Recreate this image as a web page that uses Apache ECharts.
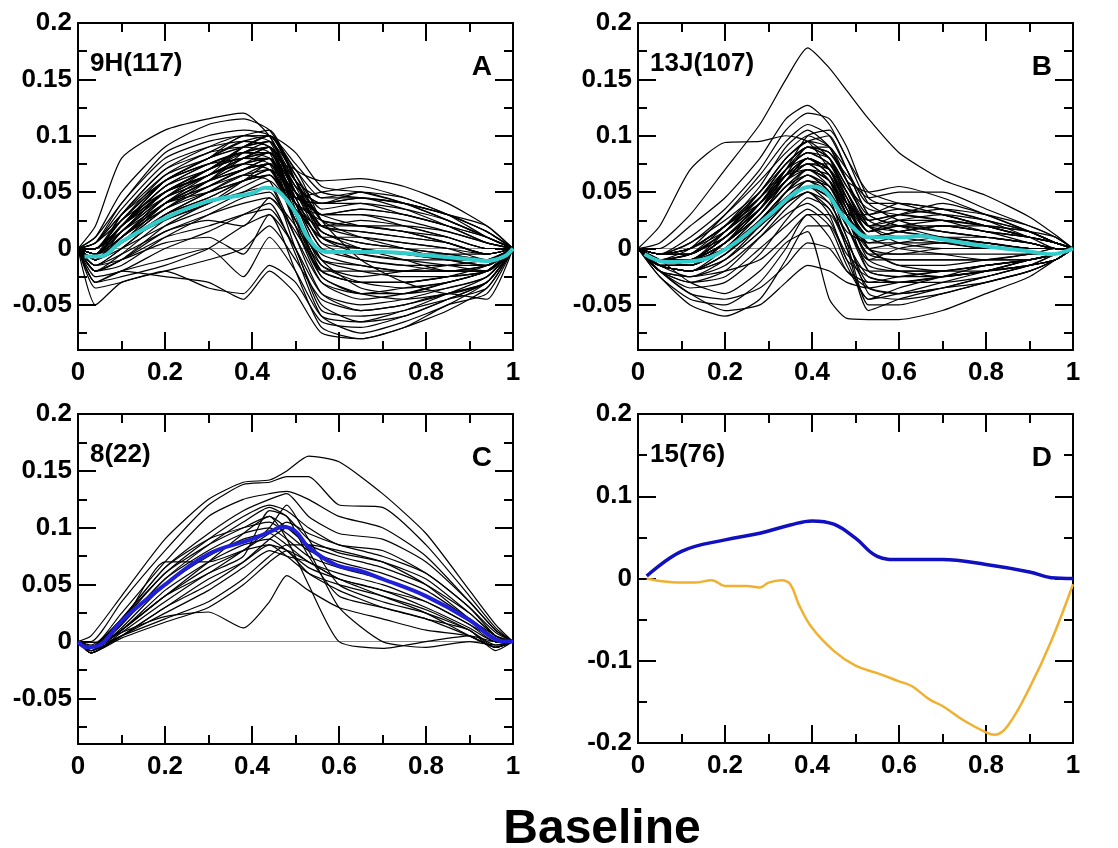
<!DOCTYPE html>
<html>
<head>
<meta charset="utf-8">
<script src="https://cdn.jsdelivr.net/npm/echarts@6/dist/echarts.min.js"></script>
<style>
  html, body { margin: 0; padding: 0; background: #fff; }
  #main { width: 1118px; height: 848px; }
</style>
</head>
<body>
<div id="main"></div>
<script>
// panel A: 9H(117), individual profiles sampled at xA
const xA = [0, 0.04, 0.1, 0.2, 0.3, 0.38, 0.44, 0.5, 0.56, 0.65, 0.75, 0.85, 0.94, 1];
const linesA = [
  [0, 0.02, 0.08, 0.105, 0.115, 0.12, 0.1, 0.06, 0.045, 0.05, 0.04, 0.025, 0.01, 0],
  [0, 0.01, 0.05, 0.09, 0.11, 0.115, 0.105, 0.07, 0.06, 0.062, 0.055, 0.04, 0.02, 0],
  [0, 0.005, 0.04, 0.08, 0.095, 0.1, 0.095, 0.05, 0.03, 0.035, 0.03, 0.02, 0.005, 0],
  [0, 0, 0.03, 0.07, 0.09, 0.1, 0.1, 0.06, 0.02, 0.015, 0.01, 0.005, -0.005, 0],
  [0, -0.005, 0.02, 0.06, 0.08, 0.095, 0.09, 0.04, 0, -0.01, -0.015, -0.02, -0.015, 0],
  [0, 0, 0.025, 0.065, 0.085, 0.09, 0.085, 0.03, -0.02, -0.03, -0.03, -0.025, -0.015, 0],
  [0, -0.01, 0.015, 0.05, 0.07, 0.08, 0.08, 0.02, -0.03, -0.045, -0.04, -0.03, -0.02, 0],
  [0, -0.005, 0.01, 0.045, 0.065, 0.075, 0.07, 0.035, 0.02, 0.025, 0.02, 0.01, 0, 0],
  [0, -0.01, 0.005, 0.035, 0.055, 0.07, 0.075, 0.04, 0, -0.005, -0.01, -0.015, -0.02, 0],
  [0, -0.015, 0, 0.03, 0.05, 0.065, 0.06, 0.01, -0.04, -0.055, -0.05, -0.04, -0.025, 0],
  [0, -0.01, 0.01, 0.04, 0.06, 0.085, 0.09, 0.055, 0.04, 0.045, 0.04, 0.03, 0.015, 0],
  [0, -0.005, 0.02, 0.055, 0.075, 0.085, 0.08, 0.045, 0.05, 0.055, 0.045, 0.03, 0.01, 0],
  [0, -0.02, -0.01, 0.02, 0.04, 0.05, 0.055, 0, -0.05, -0.065, -0.06, -0.045, -0.03, 0],
  [0, -0.02, -0.015, 0.01, 0.03, 0.045, 0.05, 0.01, -0.03, -0.04, -0.035, -0.03, -0.02, 0],
  [0, -0.025, -0.02, 0, 0.015, 0.03, 0.04, -0.005, -0.06, -0.075, -0.065, -0.05, -0.03, 0],
  [0, -0.03, -0.025, -0.015, 0, 0.02, 0.03, -0.02, -0.07, -0.08, -0.07, -0.055, -0.035, 0],
  [0, -0.035, -0.03, -0.02, -0.035, -0.04, -0.015, -0.03, -0.065, -0.07, -0.06, -0.045, -0.03, 0],
  [0, -0.03, -0.02, -0.025, -0.03, -0.045, -0.02, -0.04, -0.075, -0.08, -0.07, -0.05, -0.04, 0],
  [0, -0.05, -0.03, -0.02, -0.01, 0, 0.02, -0.01, -0.045, -0.055, -0.05, -0.04, -0.045, 0],
  [0, -0.01, 0, 0.02, 0.035, 0.05, 0.06, 0.03, -0.01, -0.02, -0.025, -0.025, -0.02, 0],
  [0, 0, 0.015, 0.04, 0.055, 0.065, 0.07, 0.05, 0.02, 0.01, 0.005, 0, -0.01, 0],
  [0, -0.005, 0.005, 0.03, 0.045, 0.06, 0.065, 0.035, 0.01, 0, -0.005, -0.01, -0.01, 0],
  [0, 0.005, 0.03, 0.06, 0.075, 0.08, 0.085, 0.06, 0.03, 0.03, 0.025, 0.015, 0.005, 0],
  [0, 0, 0.025, 0.05, 0.065, 0.09, 0.1, 0.085, 0.055, 0.05, 0.04, 0.025, 0.01, 0],
  [0, -0.01, 0.005, 0.025, 0.04, 0.06, 0.075, 0.07, 0.025, -0.01, -0.03, -0.04, -0.03, 0],
  [0, -0.015, -0.005, 0.015, 0.03, 0.04, 0.045, 0.02, -0.015, -0.025, -0.02, -0.015, -0.01, 0],
  [0, -0.02, -0.01, 0.01, 0.02, 0.03, 0.035, 0, -0.04, -0.05, -0.045, -0.035, -0.025, 0],
  [0, -0.01, 0.01, 0.045, 0.07, 0.085, 0.085, 0.04, -0.01, -0.035, -0.04, -0.035, -0.025, 0],
  [0, -0.005, 0.02, 0.06, 0.08, 0.09, 0.095, 0.05, 0.01, -0.005, -0.01, -0.01, -0.01, 0],
  [0, 0.005, 0.035, 0.075, 0.09, 0.095, 0.09, 0.045, 0.04, 0.045, 0.04, 0.03, 0.02, 0],
  [0, -0.01, 0.005, 0.04, 0.065, 0.08, 0.09, 0.055, 0.015, 0.005, 0, -0.005, -0.01, 0],
  [0, -0.02, -0.01, 0.015, 0.025, 0.02, 0.045, 0.015, -0.02, -0.03, -0.03, -0.025, -0.02, 0],
  [0, -0.015, -0.01, 0.005, 0.01, -0.005, 0.03, 0, -0.055, -0.06, -0.055, -0.04, -0.03, 0],
  [0, -0.03, -0.02, -0.01, 0, -0.025, 0.01, -0.02, -0.06, -0.065, -0.055, -0.045, -0.035, 0],
  [0, 0, 0.02, 0.05, 0.07, 0.08, 0.075, 0.025, -0.02, -0.02, -0.02, -0.02, -0.015, 0],
  [0, -0.005, 0.015, 0.045, 0.06, 0.07, 0.08, 0.04, 0.03, 0.035, 0.03, 0.02, 0.01, 0],
  [0, -0.01, 0.01, 0.035, 0.05, 0.06, 0.07, 0.02, -0.025, -0.04, -0.04, -0.03, -0.02, 0],
  [0, -0.02, -0.005, 0.025, 0.04, 0.055, 0.065, 0.025, -0.01, -0.015, -0.02, -0.02, -0.02, 0],
  [0, 0.01, 0.04, 0.085, 0.1, 0.105, 0.1, 0.05, 0.02, 0.02, 0.015, 0.01, 0, 0],
  [0, -0.005, 0.03, 0.07, 0.085, 0.1, 0.105, 0.06, 0.01, 0, -0.005, -0.005, -0.005, 0],
  [0, 0, 0.02, 0.055, 0.07, 0.085, 0.095, 0.065, 0.035, 0.04, 0.035, 0.025, 0.01, 0],
  [0, -0.005, 0.015, 0.05, 0.065, 0.08, 0.09, 0.06, 0.025, 0.02, 0.015, 0.005, -0.005, 0],
  [0, 0, 0.02, 0.05, 0.07, 0.09, 0.095, 0.045, 0.005, 0, -0.005, -0.01, -0.015, 0],
  [0, -0.005, 0.01, 0.04, 0.06, 0.075, 0.085, 0.05, 0.02, 0.015, 0.01, 0.005, -0.005, 0],
  [0, -0.01, 0.005, 0.035, 0.06, 0.08, 0.09, 0.035, -0.015, -0.03, -0.035, -0.03, -0.02, 0],
  [0, 0.005, 0.025, 0.06, 0.08, 0.09, 0.1, 0.07, 0.045, 0.045, 0.035, 0.02, 0.005, 0],
  [0, -0.005, 0.015, 0.045, 0.065, 0.08, 0.085, 0.03, -0.025, -0.04, -0.045, -0.04, -0.03, 0],
  [0, 0, 0.02, 0.055, 0.075, 0.085, 0.09, 0.055, 0.04, 0.04, 0.03, 0.02, 0.01, 0],
  [0, -0.01, 0.005, 0.03, 0.05, 0.065, 0.075, 0.05, 0.03, 0.02, 0.015, 0.005, -0.005, 0],
  [0, -0.005, 0.01, 0.04, 0.055, 0.07, 0.08, 0.045, 0.005, -0.01, -0.015, -0.015, -0.015, 0],
  [0, 0.005, 0.03, 0.065, 0.08, 0.095, 0.1, 0.06, 0.015, 0.005, 0, -0.005, -0.01, 0],
  [0, -0.01, 0.005, 0.04, 0.06, 0.075, 0.08, 0.04, 0.01, 0.01, 0.005, 0, -0.005, 0],
  [0, -0.015, 0, 0.03, 0.045, 0.06, 0.07, 0.03, -0.02, -0.03, -0.03, -0.025, -0.02, 0],
  [0, 0, 0.025, 0.06, 0.075, 0.085, 0.085, 0.05, 0.03, 0.03, 0.02, 0.01, 0, 0],
  [0, -0.005, 0.02, 0.05, 0.065, 0.075, 0.08, 0.045, 0.04, 0.05, 0.045, 0.03, 0.015, 0],
  [0, -0.01, 0.01, 0.035, 0.055, 0.07, 0.075, 0.025, -0.005, -0.015, -0.02, -0.02, -0.02, 0],
  [0, -0.005, 0.015, 0.05, 0.07, 0.09, 0.1, 0.075, 0.05, 0.045, 0.04, 0.03, 0.015, 0],
  [0, -0.01, 0.01, 0.04, 0.05, 0.06, 0.065, 0.04, 0.015, 0, -0.01, -0.02, -0.02, 0],
  [0, -0.005, 0.02, 0.045, 0.06, 0.07, 0.075, 0.04, 0.025, 0.02, 0.02, 0.015, 0.005, 0],
  [0, 0, 0.02, 0.06, 0.08, 0.1, 0.1, 0.065, 0.025, 0.01, 0, -0.01, -0.015, 0]
];
const meanAX = [0.015, 0.05, 0.1, 0.2, 0.3, 0.4, 0.43, 0.46, 0.5, 0.53, 0.57, 0.6, 0.7, 0.8, 0.89, 0.94, 0.98, 1];
const meanAY = [-0.007, -0.007, 0.006, 0.027, 0.042, 0.049, 0.054, 0.051, 0.032, 0.009, -0.003, -0.003, -0.003, -0.006, -0.009, -0.011, -0.007, 0];

// panel B: 13J(107)
const xB = [0, 0.05, 0.12, 0.2, 0.28, 0.34, 0.39, 0.44, 0.48, 0.53, 0.6, 0.7, 0.8, 0.9, 0.96, 1];
const linesB = [
  [0, 0.005, 0.03, 0.07, 0.11, 0.15, 0.178, 0.16, 0.14, 0.115, 0.085, 0.061, 0.047, 0.028, 0.012, 0],
  [0, 0.02, 0.07, 0.094, 0.095, 0.1, 0.095, 0.07, 0.04, 0.02, 0.015, 0.01, 0.005, 0, 0, 0],
  [0, 0, 0.02, 0.045, 0.08, 0.115, 0.127, 0.11, 0.08, 0.05, 0.04, 0.03, 0.02, 0.01, 0.005, 0],
  [0, -0.005, 0.01, 0.035, 0.07, 0.105, 0.12, 0.115, 0.09, 0.045, 0.035, 0.03, 0.02, 0.01, 0.005, 0],
  [0, -0.01, 0, 0.03, 0.065, 0.095, 0.11, 0.1, 0.07, 0.03, 0.02, 0.015, 0.01, 0.005, 0, 0],
  [0, -0.01, -0.005, 0.02, 0.055, 0.09, 0.105, 0.09, 0.06, 0.05, 0.055, 0.045, 0.03, 0.015, 0.005, 0],
  [0, -0.01, -0.01, 0.015, 0.05, 0.08, 0.095, 0.08, 0.05, 0.02, 0.025, 0.025, 0.02, 0.01, 0, 0],
  [0, -0.015, -0.015, 0.005, 0.04, 0.07, 0.09, 0.08, 0.04, 0, -0.005, -0.005, -0.005, -0.005, -0.005, 0],
  [0, -0.01, -0.01, 0.01, 0.04, 0.065, 0.08, 0.065, 0.03, 0.01, 0.015, 0.02, 0.015, 0.005, 0, 0],
  [0, -0.015, -0.02, 0, 0.03, 0.06, 0.075, 0.06, 0.02, -0.01, -0.01, -0.01, -0.01, -0.01, -0.005, 0],
  [0, -0.02, -0.025, -0.01, 0.02, 0.05, 0.07, 0.06, 0.03, -0.02, -0.025, -0.025, -0.02, -0.015, -0.01, 0],
  [0, -0.01, -0.015, 0, 0.025, 0.05, 0.065, 0.05, 0.01, -0.03, -0.03, -0.025, -0.02, -0.015, -0.01, 0],
  [0, -0.005, 0, 0.02, 0.045, 0.065, 0.07, 0.055, 0.03, 0.03, 0.04, 0.035, 0.025, 0.01, 0.005, 0],
  [0, -0.015, -0.02, -0.005, 0.02, 0.045, 0.06, 0.045, 0, -0.035, -0.04, -0.035, -0.025, -0.015, -0.01, 0],
  [0, -0.02, -0.03, -0.02, 0.01, 0.035, 0.05, 0.04, 0.01, -0.04, -0.045, -0.04, -0.03, -0.02, -0.01, 0],
  [0, -0.02, -0.035, -0.03, -0.005, 0.025, 0.045, 0.035, 0.005, -0.05, -0.05, -0.04, -0.03, -0.02, -0.01, 0],
  [0, -0.025, -0.045, -0.05, -0.03, 0, 0.03, 0.03, 0, -0.055, -0.045, -0.035, -0.025, -0.015, -0.005, 0],
  [0, -0.025, -0.05, -0.06, -0.045, -0.01, 0.02, 0.02, -0.01, -0.045, -0.04, -0.03, -0.02, -0.01, -0.005, 0],
  [0, -0.01, -0.03, -0.04, -0.02, 0.005, 0.015, -0.045, -0.062, -0.063, -0.063, -0.055, -0.04, -0.025, -0.01, 0],
  [0, -0.02, -0.04, -0.055, -0.05, -0.03, -0.015, -0.02, -0.03, -0.035, -0.03, -0.025, -0.02, -0.01, -0.005, 0],
  [0, -0.01, -0.005, 0.01, 0.035, 0.06, 0.08, 0.07, 0.045, 0.015, 0.02, 0.02, 0.015, 0.01, 0.005, 0],
  [0, -0.005, 0.005, 0.025, 0.05, 0.075, 0.09, 0.085, 0.065, 0.045, 0.05, 0.05, 0.035, 0.02, 0.01, 0],
  [0, -0.01, -0.01, 0.005, 0.03, 0.055, 0.07, 0.06, 0.035, 0.01, 0, -0.005, -0.01, -0.01, -0.005, 0],
  [0, -0.015, -0.015, 0, 0.025, 0.045, 0.055, 0.04, 0.015, 0.005, 0.01, 0.01, 0.005, 0, 0, 0],
  [0, -0.02, -0.025, -0.015, 0.01, 0.03, 0.04, 0.025, -0.005, -0.02, -0.02, -0.02, -0.015, -0.01, -0.005, 0],
  [0, -0.005, 0.005, 0.03, 0.06, 0.085, 0.1, 0.09, 0.06, 0.025, 0.03, 0.035, 0.03, 0.02, 0.01, 0],
  [0, -0.01, -0.005, 0.015, 0.045, 0.075, 0.09, 0.08, 0.055, 0.035, 0.03, 0.025, 0.02, 0.015, 0.005, 0],
  [0, -0.015, -0.02, -0.01, 0.015, 0.04, 0.05, 0.03, -0.01, -0.025, -0.03, -0.03, -0.025, -0.015, -0.01, 0],
  [0, -0.02, -0.03, -0.025, 0, 0.02, 0.035, 0.02, -0.015, -0.045, -0.035, -0.025, -0.015, -0.01, -0.005, 0],
  [0, -0.005, 0, 0.02, 0.04, 0.06, 0.075, 0.07, 0.05, 0.02, 0.005, 0, 0, 0, 0, 0],
  [0, -0.01, -0.01, 0.005, 0.035, 0.07, 0.1, 0.105, 0.08, 0.04, 0.025, 0.015, 0.01, 0.005, 0, 0],
  [0, -0.015, -0.025, -0.02, -0.01, 0.01, 0.03, 0.01, -0.02, -0.035, -0.04, -0.035, -0.03, -0.02, -0.01, 0],
  [0, -0.02, -0.04, -0.045, -0.035, -0.015, 0.005, 0, -0.02, -0.03, -0.025, -0.02, -0.015, -0.01, -0.005, 0],
  [0, -0.005, 0, 0.015, 0.04, 0.07, 0.085, 0.075, 0.045, 0, -0.015, -0.02, -0.02, -0.015, -0.01, 0],
  [0, -0.01, -0.01, 0.01, 0.035, 0.06, 0.08, 0.07, 0.04, 0.01, 0.015, 0.02, 0.02, 0.015, 0.01, 0],
  [0, -0.005, 0, 0.02, 0.05, 0.08, 0.095, 0.1, 0.07, 0.03, 0.02, 0.01, 0.005, 0, 0, 0],
  [0, -0.01, -0.01, 0.01, 0.04, 0.07, 0.085, 0.075, 0.05, 0.02, 0.02, 0.015, 0.01, 0.005, 0, 0],
  [0, -0.01, -0.015, 0.005, 0.035, 0.065, 0.08, 0.07, 0.04, 0.005, 0.005, 0.005, 0, 0, 0, 0],
  [0, -0.005, -0.005, 0.015, 0.045, 0.075, 0.09, 0.085, 0.06, 0.03, 0.035, 0.03, 0.02, 0.01, 0.005, 0],
  [0, -0.01, -0.01, 0.005, 0.03, 0.055, 0.07, 0.065, 0.04, 0.015, 0.02, 0.025, 0.02, 0.01, 0.005, 0],
  [0, -0.015, -0.015, 0, 0.03, 0.055, 0.065, 0.05, 0.02, -0.015, -0.02, -0.02, -0.015, -0.01, -0.005, 0],
  [0, -0.01, -0.01, 0.01, 0.04, 0.065, 0.075, 0.06, 0.03, 0, 0.005, 0.01, 0.01, 0.005, 0, 0],
  [0, -0.005, 0, 0.02, 0.05, 0.08, 0.095, 0.09, 0.07, 0.04, 0.04, 0.035, 0.025, 0.015, 0.005, 0],
  [0, -0.01, -0.015, 0, 0.025, 0.05, 0.06, 0.05, 0.025, -0.005, -0.01, -0.01, -0.01, -0.005, 0, 0],
  [0, -0.015, -0.02, -0.005, 0.02, 0.045, 0.055, 0.045, 0.02, -0.02, -0.025, -0.02, -0.015, -0.01, -0.005, 0],
  [0, -0.005, -0.005, 0.015, 0.045, 0.07, 0.085, 0.08, 0.055, 0.025, 0.015, 0.01, 0.005, 0, 0, 0],
  [0, -0.01, -0.005, 0.01, 0.035, 0.06, 0.075, 0.075, 0.05, 0.015, 0.025, 0.03, 0.025, 0.015, 0.005, 0],
  [0, -0.01, -0.01, 0.005, 0.03, 0.06, 0.08, 0.07, 0.035, -0.005, -0.005, 0, 0, 0, 0, 0],
  [0, -0.015, -0.02, -0.005, 0.025, 0.05, 0.065, 0.055, 0.03, 0, -0.015, -0.015, -0.01, -0.005, 0, 0],
  [0, -0.005, 0, 0.02, 0.045, 0.07, 0.08, 0.07, 0.045, 0.02, 0.03, 0.04, 0.03, 0.015, 0.005, 0],
  [0, -0.01, -0.01, 0, 0.02, 0.04, 0.055, 0.045, 0.02, -0.01, 0, 0.005, 0.005, 0, 0, 0],
  [0, -0.01, -0.015, 0.005, 0.035, 0.065, 0.09, 0.09, 0.06, 0.02, 0.01, 0.005, 0, 0, 0, 0],
  [0, -0.015, -0.015, 0, 0.02, 0.04, 0.05, 0.035, 0.005, -0.025, -0.03, -0.025, -0.02, -0.01, -0.005, 0],
  [0, -0.005, -0.005, 0.015, 0.04, 0.065, 0.08, 0.065, 0.035, 0.01, 0.015, 0.02, 0.015, 0.01, 0.005, 0],
  [0, -0.01, -0.01, 0.01, 0.035, 0.06, 0.07, 0.06, 0.04, 0.025, 0.03, 0.025, 0.015, 0.01, 0.005, 0],
  [0, -0.015, -0.02, -0.01, 0.015, 0.04, 0.06, 0.055, 0.03, -0.01, -0.02, -0.025, -0.02, -0.015, -0.005, 0]
];
const meanBX = [0.015, 0.065, 0.13, 0.2, 0.3, 0.36, 0.4, 0.43, 0.47, 0.51, 0.53, 0.6, 0.65, 0.7, 0.8, 0.89, 0.95, 1];
const meanBY = [-0.005, -0.012, -0.011, -0.001, 0.029, 0.049, 0.055, 0.051, 0.029, 0.013, 0.01, 0.01, 0.011, 0.008, 0.002, -0.002, -0.005, 0];

// panel C: 8(22)
const xC = [0, 0.03, 0.1, 0.2, 0.3, 0.38, 0.44, 0.48, 0.53, 0.6, 0.7, 0.8, 0.9, 0.96, 1];
const linesC = [
  [0, 0.005, 0.04, 0.09, 0.125, 0.14, 0.142, 0.15, 0.163, 0.158, 0.13, 0.095, 0.045, 0.015, 0],
  [0, 0, 0.035, 0.08, 0.12, 0.138, 0.14, 0.145, 0.145, 0.12, 0.118, 0.085, 0.04, 0.012, 0],
  [0, -0.005, 0.025, 0.07, 0.11, 0.125, 0.13, 0.132, 0.125, 0.11, 0.1, 0.075, 0.035, 0.01, 0],
  [0, -0.005, 0.02, 0.065, 0.095, 0.115, 0.125, 0.13, 0.11, 0.095, 0.09, 0.07, 0.035, 0.01, 0],
  [0, -0.005, 0.02, 0.06, 0.09, 0.11, 0.12, 0.115, 0.1, 0.085, 0.08, 0.06, 0.03, 0.008, 0],
  [0, -0.008, 0.015, 0.055, 0.085, 0.105, 0.118, 0.11, 0.09, 0.078, 0.07, 0.055, 0.025, 0.005, 0],
  [0, -0.005, 0.018, 0.06, 0.085, 0.1, 0.11, 0.1, 0.085, 0.075, 0.065, 0.05, 0.025, 0.005, 0],
  [0, -0.003, 0.02, 0.065, 0.09, 0.1, 0.105, 0.095, 0.08, 0.07, 0.06, 0.045, 0.02, 0.005, 0],
  [0, -0.005, 0.015, 0.055, 0.08, 0.095, 0.1, 0.09, 0.075, 0.065, 0.055, 0.04, 0.02, 0.003, 0],
  [0, -0.008, 0.012, 0.05, 0.075, 0.09, 0.095, 0.085, 0.07, 0.06, 0.05, 0.035, 0.015, 0.002, 0],
  [0, -0.005, 0.01, 0.045, 0.07, 0.085, 0.09, 0.08, 0.065, 0.055, 0.045, 0.03, 0.012, 0, 0],
  [0, -0.005, 0.015, 0.07, 0.07, 0.08, 0.085, 0.075, 0.06, 0.05, 0.04, 0.028, 0.01, -0.003, 0],
  [0, -0.008, 0.01, 0.04, 0.065, 0.08, 0.1, 0.12, 0.09, 0.05, 0.035, 0.025, 0.01, -0.005, 0],
  [0, -0.01, 0.008, 0.035, 0.06, 0.075, 0.115, 0.11, 0.075, 0.04, 0.03, 0.02, 0.005, -0.005, 0],
  [0, -0.01, 0.005, 0.03, 0.055, 0.07, 0.085, 0.08, 0.06, 0.045, 0.03, 0.02, 0.01, -0.008, 0],
  [0, -0.008, 0.005, 0.025, 0.045, 0.065, 0.08, 0.075, 0.07, 0.055, 0.045, 0.035, 0.015, 0, 0],
  [0, -0.005, 0.005, 0.02, 0.035, 0.055, 0.075, 0.085, 0.085, 0.08, 0.07, 0.05, 0.02, 0.003, 0],
  [0, -0.01, 0.003, 0.017, 0.03, 0.05, 0.07, 0.08, 0.07, 0.055, 0.04, 0.025, 0.005, -0.005, 0],
  [0, -0.005, 0.008, 0.022, 0.026, 0.012, 0.035, 0.058, 0.045, 0.03, 0.02, 0.01, 0.005, -0.005, 0],
  [0, -0.008, 0.01, 0.04, 0.07, 0.095, 0.11, 0.09, 0.05, 0, -0.006, 0, 0.005, 0, 0],
  [0, -0.01, 0.005, 0.03, 0.05, 0.07, 0.09, 0.1, 0.08, 0.03, 0, -0.005, 0, -0.003, 0],
  [0, -0.005, 0.01, 0.04, 0.06, 0.08, 0.095, 0.105, 0.095, 0.085, 0.075, 0.06, 0.03, 0.005, 0]
];
const meanCX = [0, 0.02, 0.05, 0.1, 0.2, 0.3, 0.4, 0.45, 0.47, 0.5, 0.53, 0.59, 0.65, 0.7, 0.8, 0.9, 0.95, 0.98, 1];
const meanCY = [0, -0.005, -0.003, 0.018, 0.05, 0.077, 0.09, 0.098, 0.101, 0.097, 0.083, 0.068, 0.062, 0.055, 0.04, 0.019, 0.004, 0, 0];

// panel D: 15(76)
const blueDX = [0.02, 0.1, 0.2, 0.28, 0.35, 0.4, 0.45, 0.5, 0.55, 0.6, 0.7, 0.8, 0.9, 0.95, 1];
const blueDY = [0.003, 0.033, 0.047, 0.055, 0.065, 0.07, 0.066, 0.049, 0.027, 0.023, 0.023, 0.017, 0.008, 0.001, 0];
const orangeDX = [0.02, 0.05, 0.1, 0.13, 0.17, 0.2, 0.25, 0.28, 0.3, 0.33, 0.35, 0.37, 0.4, 0.45, 0.5, 0.55, 0.6, 0.63, 0.67, 0.7, 0.75, 0.8, 0.82, 0.85, 0.9, 0.95, 1];
const orangeDY = [0, -0.003, -0.005, -0.005, -0.002, -0.009, -0.009, -0.011, -0.005, -0.002, -0.007, -0.032, -0.06, -0.088, -0.106, -0.115, -0.125, -0.131, -0.147, -0.155, -0.173, -0.187, -0.19, -0.179, -0.133, -0.076, -0.007];

// axis ticks
const yMajorABC = [-0.05, 0, 0.05, 0.1, 0.15, 0.2];
const yMinorABC = [-0.075, -0.025, 0.025, 0.075, 0.125, 0.175];
const yMajorD = [-0.2, -0.1, 0, 0.1, 0.2];
const yMinorD = [-0.15, -0.05, 0.05, 0.15];

const panelTags = ['9H(117)', '13J(107)', '8(22)', '15(76)'];
const panelLetters = ['A', 'B', 'C', 'D'];

let myChart = echarts.init(document.getElementById('main'));

const FONT = '"Liberation Sans", Arial, Helvetica, sans-serif';
const boxes = [
    {left: 78, top: 23, width: 435, height: 327},
    {left: 638, top: 23, width: 435, height: 327},
    {left: 78, top: 414, width: 435, height: 330},
    {left: 638, top: 414, width: 435, height: 329}
];
const yRange = [[-0.09, 0.2], [-0.09, 0.2], [-0.09, 0.2], [-0.2, 0.2]];

function zip(xs, ys) {
    return xs.map(function (x, i) { return [x, ys[i]]; });
}

// grids 0-3 hold the data, grids 4-7 sit on top and only carry the minor y ticks
let grids = boxes.concat(boxes);
let xAxes = [];
let yAxes = [];
let tickStyle = {color: '#000', width: 2};
boxes.forEach(function (g, i) {
    ['bottom', 'top'].forEach(function (pos) {
        xAxes.push({
            type: 'value', gridIndex: i, position: pos, min: 0, max: 1, interval: 0.2,
            axisLine: {show: true, onZero: false, lineStyle: {color: '#000', width: 2}},
            axisTick: {show: true, inside: true, length: 18, lineStyle: tickStyle},
            minorTick: {show: true, splitNumber: 2, length: 9, lineStyle: tickStyle},
            axisLabel: {show: pos === 'bottom', margin: 10, color: '#000', fontSize: 26, fontWeight: 'bold', fontFamily: FONT},
            splitLine: {show: false}
        });
    });
    let major = i === 3 ? yMajorD : yMajorABC;
    ['left', 'right'].forEach(function (pos) {
        yAxes.push({
            type: 'value', gridIndex: i, position: pos, min: yRange[i][0], max: yRange[i][1],
            axisLine: {show: true, onZero: false, lineStyle: {color: '#000', width: 2}},
            axisTick: {show: true, inside: true, length: 18, customValues: major, lineStyle: tickStyle},
            axisLabel: {show: pos === 'left', customValues: major, margin: 6, color: '#000', fontSize: 26, fontWeight: 'bold', fontFamily: FONT},
            splitLine: {show: false}
        });
    });
});
boxes.forEach(function (g, i) {
    let minor = i === 3 ? yMinorD : yMinorABC;
    xAxes.push({type: 'value', gridIndex: 4 + i, min: 0, max: 1, show: false});
    ['left', 'right'].forEach(function (pos) {
        yAxes.push({
            type: 'value', gridIndex: 4 + i, position: pos, min: yRange[i][0], max: yRange[i][1],
            axisLine: {show: false},
            axisTick: {show: true, inside: true, length: 9, customValues: minor, lineStyle: tickStyle},
            axisLabel: {show: false},
            splitLine: {show: false}
        });
    });
});

let series = [];
function addBundle(gi, xs, lines) {
    lines.forEach(function (ys, k) {
        let s = {
            type: 'line', xAxisIndex: gi * 2, yAxisIndex: gi * 2,
            data: zip(xs, ys), showSymbol: false, smooth: 0.2, silent: true, z: 2,
            lineStyle: {color: '#000', width: 1.2}
        };
        if (k === 0) {
            s.markLine = {
                silent: true, symbol: 'none', label: {show: false}, z: 1,
                lineStyle: {color: '#8a8a8a', width: 1, type: 'solid'},
                data: [{yAxis: 0}]
            };
        }
        series.push(s);
    });
}
function addMean(gi, xs, ys, color, width) {
    series.push({
        type: 'line', xAxisIndex: gi * 2, yAxisIndex: gi * 2,
        data: zip(xs, ys), showSymbol: false, smooth: 0.4, silent: true, z: 5,
        lineStyle: {color: color, width: width}
    });
}

addBundle(0, xA, linesA);
addMean(0, meanAX, meanAY, '#33cccc', 4);
addBundle(1, xB, linesB);
addMean(1, meanBX, meanBY, '#33cccc', 4);
addBundle(2, xC, linesC);
addMean(2, meanCX, meanCY, '#2020d8', 4);
addMean(3, blueDX, blueDY, '#1010c0', 3.5);
addMean(3, orangeDX, orangeDY, '#f0b030', 2.5);

let graphics = [];
boxes.forEach(function (g, i) {
    graphics.push({
        type: 'text', x: g.left + 12, y: g.top + 41,
        style: {text: panelTags[i], font: 'bold 26px ' + FONT, fill: '#000', align: 'left', verticalAlign: 'middle'}
    });
    graphics.push({
        type: 'text', x: g.left + g.width - 21, y: g.top + 44,
        style: {text: panelLetters[i], font: 'bold 28px ' + FONT, fill: '#000', align: 'right', verticalAlign: 'middle'}
    });
});
graphics.push({
    type: 'text', x: 602, y: 830,
    style: {text: 'Baseline', font: 'bold 48px ' + FONT, fill: '#000', align: 'center', verticalAlign: 'middle'}
});

myChart.setOption({
    animation: false,
    backgroundColor: '#fff',
    grid: grids,
    xAxis: xAxes,
    yAxis: yAxes,
    series: series,
    graphic: graphics
});
</script>
</body>
</html>
